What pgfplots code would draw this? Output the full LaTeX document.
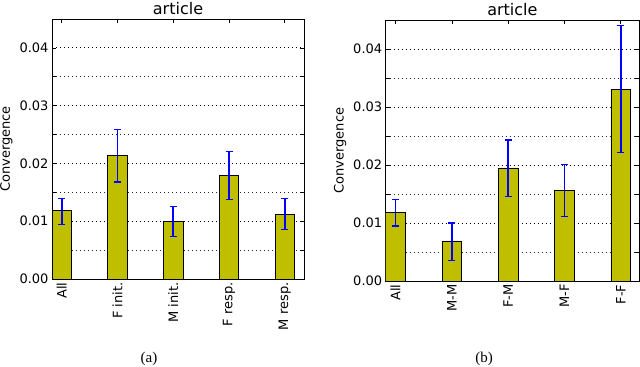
\documentclass[border=0pt]{standalone}
\usepackage{fontspec}
\setmainfont{DejaVu Sans}
\newfontfamily\capfont{Liberation Serif}
\usepackage{pgfplots}
\pgfplotsset{compat=1.18}
\definecolor{baryel}{rgb}{0.75,0.75,0}
\pgfplotsset{
  myax/.style={
    scale only axis, anchor=south west,
    ymin=0, ymax=0.045,
    ytick={0,0.01,0.02,0.03,0.04},
    minor ytick={0.005,0.015,0.025,0.035},
    scaled y ticks=false,
    yticklabel style={/pgf/number format/fixed,/pgf/number format/fixed zerofill,/pgf/number format/precision=2},
    /pgf/number format/assume math mode=true,
    xtick={0.175,1.175,2.175,3.175,4.175},
    xticklabel style={rotate=90, anchor=east, font=\fontsize{13bp}{15bp}\selectfont},
    yticklabel style={font=\fontsize{13bp}{15bp}\selectfont},
    ymajorgrids, yminorgrids,
    major grid style={black, line width=0.9bp, dash pattern=on 1.2bp off 2.8bp},
    minor grid style={black!85, line width=0.9bp, dash pattern=on 1.2bp off 2.8bp},
    tick align=inside, tick pos=both,
    major tick length=4bp, minor tick length=4bp,
    tick style={black, line width=0.7bp},
    axis line style={black, line width=0.9bp},
    title={article},
    title style={font=\fontsize{16bp}{18bp}\selectfont, yshift=-5bp},
    ylabel={Convergence},
    ylabel style={font=\fontsize{13bp}{15bp}\selectfont},
  },
  mybar/.style={
    ybar, bar width=0.35, fill=baryel, draw=black, line width=0.8bp,
    error bars/.cd, y dir=both, y explicit,
    error bar style={draw=blue, line width=1.6bp, solid},
    error mark options={draw=blue, line width=1.2bp, mark size=3.5bp, rotate=90, solid},
  }
}
\begin{document}
\begin{tikzpicture}
\path[use as bounding box] (0,0) rectangle (640bp,-367bp);
\begin{axis}[myax, at={(52bp,-279bp)}, width=252bp, height=260bp,
  xmin=0, xmax=4.52,
  xticklabels={All, F init., M init., F resp., M resp.}]
\addplot[mybar] coordinates {
(0.175,0.0118) += (0,0.0022) -= (0,0.0023)
(1.175,0.0214) += (0,0.0045) -= (0,0.0046)
(2.175,0.0100) += (0,0.0025) -= (0,0.0027)
(3.175,0.0180) += (0,0.0041) -= (0,0.0042)
(4.175,0.0112) += (0,0.0027) -= (0,0.0027)
};
\end{axis}
\begin{axis}[myax, at={(385.7bp,-281bp)}, width=253.4bp, height=261bp,
  xmin=0, xmax=4.5,
  xticklabels={All, M-M, F-M, M-F, F-F}]
\addplot[mybar] coordinates {
(0.175,0.0118) += (0,0.0022) -= (0,0.0023)
(1.175,0.0069) += (0,0.0031) -= (0,0.0033)
(2.175,0.0195) += (0,0.0048) -= (0,0.0049)
(3.175,0.0156) += (0,0.0045) -= (0,0.0045)
(4.175,0.0331) += (0,0.0110) -= (0,0.0110)
};
\end{axis}
\node at (149bp,-359bp) {\capfont\fontsize{15bp}{17bp}\selectfont (a)};
\node at (484bp,-359bp) {\capfont\fontsize{15bp}{17bp}\selectfont (b)};
\end{tikzpicture}
\end{document}
